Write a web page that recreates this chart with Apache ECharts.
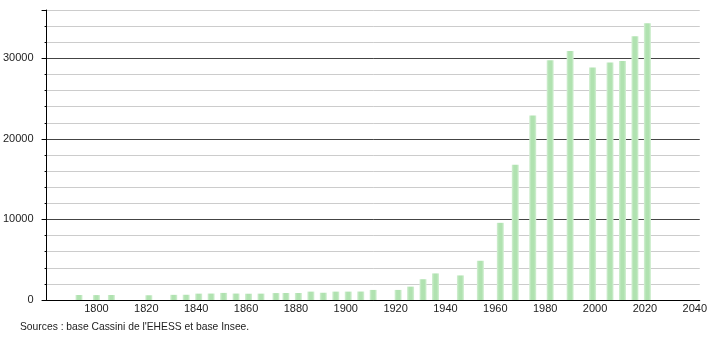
<!DOCTYPE html>
<html>
<head>
<meta charset="utf-8">
<script src="https://cdn.jsdelivr.net/npm/echarts@6/dist/echarts.min.js"></script>
<style>
html,body{margin:0;padding:0;background:#fff;}
#c{width:710px;height:340px;}
</style>
</head>
<body>
<div id="c"></div>
<script>
var years = [1793,1800,1806,1821,1831,1836,1841,1846,1851,1856,1861,1866,1872,1876,1881,1886,1891,1896,1901,1906,1911,1921,1926,1931,1936,1946,1954,1962,1968,1975,1982,1990,1999,2006,2011,2016,2021];
var population = [620,610,620,590,640,650,790,800,880,800,780,790,860,870,870,1040,900,1040,1040,1050,1250,1250,1660,2580,3300,3050,4870,9580,16800,22900,29760,30900,28870,29470,29660,32750,34370];
var yTickLabels = [0,10000,20000,30000];
var sourceText = "Sources : base Cassini de l'EHESS et base Insee.";

var chart = echarts.init(document.getElementById('c'), null, {renderer:'canvas'});
var data = years.map(function(y,i){return [y, population[i]];});
var barColor = new echarts.graphic.LinearGradient(0,0,1,0,[
  {offset:0,color:'#d4f0d4'},
  {offset:0.3,color:'#b0e2b0'},
  {offset:0.7,color:'#b0e2b0'},
  {offset:1,color:'#d4f0d4'}
]);
var font = 'Liberation Sans, Arial, sans-serif';
chart.setOption({
  animation:false,
  backgroundColor:'#fff',
  grid:{left:44,right:10,top:10,bottom:40,containLabel:false},
  xAxis:{
    type:'value',min:1780,max:2042,interval:20,
    axisLine:{show:true,lineStyle:{color:'#000',width:1}},
    axisTick:{show:false},
    splitLine:{show:false},
    axisLabel:{showMinLabel:false,showMaxLabel:false,color:'#222',fontSize:11,fontFamily:font,margin:3,
      formatter:function(v){return String(v);}}
  },
  yAxis:[{
    type:'value',min:0,max:36000,interval:2000,
    axisLine:{show:true,lineStyle:{color:'#000',width:1}},
    axisTick:{show:true,length:2,lineStyle:{color:'#000'}},
    axisLabel:{show:false},
    splitLine:{show:true,lineStyle:{color:['#444','#ccc','#ccc','#ccc','#ccc'],width:1}}
  },{
    type:'value',min:0,max:36000,interval:10000,position:'left',
    axisLine:{show:false},
    axisTick:{show:true,length:5,lineStyle:{color:'#000'}},
    splitLine:{show:false},
    axisLabel:{show:true,color:'#222',fontSize:11,fontFamily:font,margin:13,
      formatter:function(v){return yTickLabels.indexOf(v)>=0?String(v):'';}}
  }],
  series:[{
    type:'bar',data:data,barWidth:7,yAxisIndex:0,
    itemStyle:{color:barColor}
  }],
  graphic:[{
    type:'text',left:20,top:322,
    style:{text:sourceText,fill:'#222',font:'10.3px '+font}
  }]
});
</script>
</body>
</html>
